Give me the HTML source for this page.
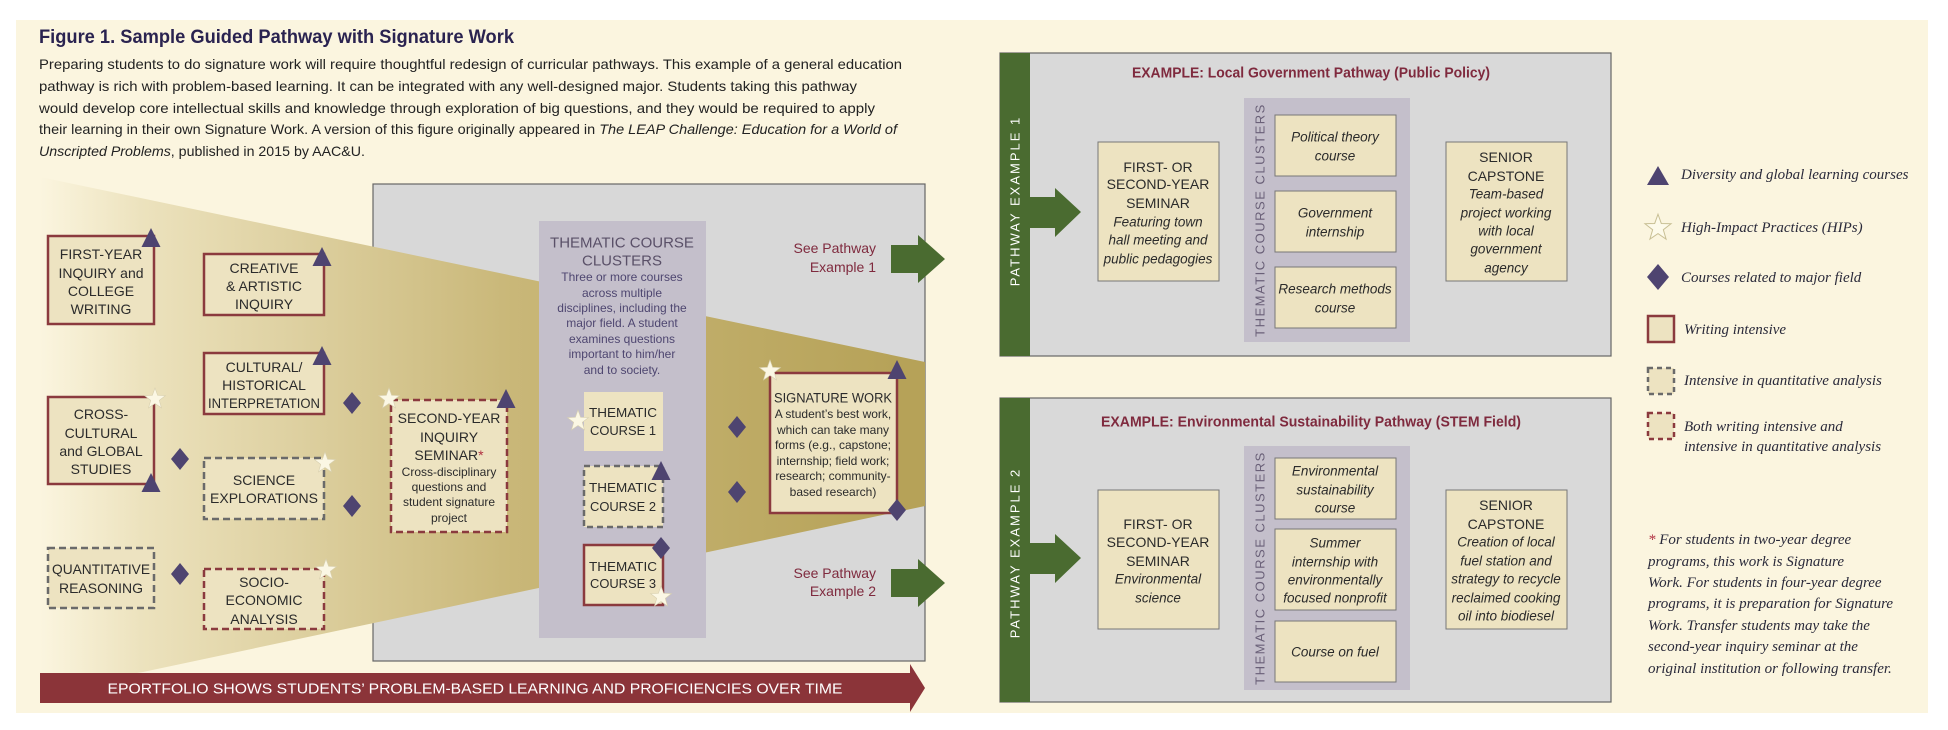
<!DOCTYPE html>
<html><head><meta charset="utf-8"><style>
html,body{margin:0;padding:0;background:#fff;}
svg{display:block;}
text{font-family:"Liberation Sans Narrow","Liberation Sans",sans-serif;fill:#2b2b2b;}
.c{text-anchor:middle;dominant-baseline:central;font-size:14px;}
.t{text-anchor:middle;dominant-baseline:central;font-size:12.5px;}
.s{text-anchor:middle;dominant-baseline:central;font-size:12px;}
.i{text-anchor:middle;dominant-baseline:central;font-size:13.5px;font-style:italic;}
.lg{font-family:"Liberation Serif",serif;font-style:italic;font-size:15px;fill:#2a2a3a;dominant-baseline:central;}
.p{font-size:14px;fill:#222;}
</style></head><body>
<svg width="1948" height="730" viewBox="0 0 1948 730" xmlns="http://www.w3.org/2000/svg">
<defs>
<linearGradient id="gold" x1="40" y1="0" x2="900" y2="0" gradientUnits="userSpaceOnUse">
<stop offset="0" stop-color="#fbf5df"/><stop offset="0.12" stop-color="#ece2bd"/><stop offset="0.55" stop-color="#c9b778"/><stop offset="1" stop-color="#b6a258"/>
</linearGradient>
<polygon id="st" points="0,-11 2.65,-3.64 10.46,-3.4 4.28,1.39 6.47,8.9 0,4.5 -6.47,8.9 -4.28,1.39 -10.46,-3.4 -2.65,-3.64" fill="#fbf7e4" stroke="#d8d0b0" stroke-width="0.6"/>
<polygon id="tr" points="0,-10 9.5,9 -9.5,9" fill="#4e4470"/>
<polygon id="dm" points="0,-11 9,0 0,11 -9,0" fill="#4e4470"/>
</defs>
<rect x="16" y="20" width="1912" height="693" fill="#fbf5df"/>
<text x="39" y="43" font-size="19" font-weight="bold" style="fill:#2a2350" textLength="475" lengthAdjust="spacingAndGlyphs">Figure 1. Sample Guided Pathway with Signature Work</text>
<text class="p" x="39" y="69" textLength="863" lengthAdjust="spacingAndGlyphs">Preparing students to do signature work will require thoughtful redesign of curricular pathways. This example of a general education</text>
<text class="p" x="39" y="91" textLength="818" lengthAdjust="spacingAndGlyphs">pathway is rich with problem-based learning. It can be integrated with any well-designed major. Students taking this pathway</text>
<text class="p" x="39" y="113" textLength="836" lengthAdjust="spacingAndGlyphs">would develop core intellectual skills and knowledge through exploration of big questions, and they would be required to apply</text>
<text class="p" x="39" y="134" textLength="858" lengthAdjust="spacingAndGlyphs">their learning in their own Signature Work. A version of this figure originally appeared in <tspan font-style="italic">The LEAP Challenge: Education for a World of</tspan></text>
<text class="p" x="39" y="156" textLength="326" lengthAdjust="spacingAndGlyphs"><tspan font-style="italic">Unscripted Problems</tspan>, published in 2015 by AAC&amp;U.</text>

<rect x="373" y="184" width="552" height="477" fill="#d8d8d8" stroke="#666" stroke-width="1.2"/>
<polygon points="40,177 925,362 925,506 143,672 40,690" fill="url(#gold)"/>
<rect x="539" y="221" width="167" height="417" fill="#c4bfcb"/>
<text class="c" x="622" y="243" style="fill:#5a5068;font-size:15px">THEMATIC COURSE</text>
<text class="c" x="622" y="261" style="fill:#5a5068;font-size:15px">CLUSTERS</text>
<text class="s" x="622" y="277" style="fill:#4e4670">Three or more courses</text>
<text class="s" x="622" y="293" style="fill:#4e4670">across multiple</text>
<text class="s" x="622" y="308" style="fill:#4e4670">disciplines, including the</text>
<text class="s" x="622" y="323" style="fill:#4e4670">major field. A student</text>
<text class="s" x="622" y="339" style="fill:#4e4670">examines questions</text>
<text class="s" x="622" y="354" style="fill:#4e4670">important to him/her</text>
<text class="s" x="622" y="370" style="fill:#4e4670">and to society.</text>

<g fill="#ede3c1" stroke-width="2.5">
<rect x="48" y="236" width="106" height="88" stroke="#8b3a3e"/>
<rect x="204" y="254" width="120" height="61" stroke="#8b3a3e"/>
<rect x="204" y="353" width="120" height="61" stroke="#8b3a3e"/>
<rect x="48" y="397" width="106" height="87" stroke="#8b3a3e"/>
<rect x="204" y="458" width="120" height="61" stroke="#6a6a6a" stroke-dasharray="7,4"/>
<rect x="391" y="400" width="116" height="132" stroke="#8b3a3e" stroke-dasharray="7,4"/>
<rect x="48" y="548" width="106" height="60" stroke="#6a6a6a" stroke-dasharray="7,4"/>
<rect x="204" y="569" width="120" height="60" stroke="#8b3a3e" stroke-dasharray="7,4"/>
<rect x="584" y="392" width="79" height="59" stroke="none"/>
<rect x="584" y="466" width="79" height="61" stroke="#6a6a6a" stroke-dasharray="6,4"/>
<rect x="584" y="545" width="79" height="60" stroke="#8b3a3e"/>
<rect x="770" y="373" width="127" height="140" stroke="#8b3a3e"/>
</g>
<text class="c" x="101" y="254">FIRST-YEAR</text>
<text class="c" x="101" y="273">INQUIRY and</text>
<text class="c" x="101" y="291">COLLEGE</text>
<text class="c" x="101" y="309">WRITING</text>
<text class="c" x="264" y="268">CREATIVE</text>
<text class="c" x="264" y="286">&amp; ARTISTIC</text>
<text class="c" x="264" y="304">INQUIRY</text>
<text class="c" x="264" y="367">CULTURAL/</text>
<text class="c" x="264" y="385">HISTORICAL</text>
<text class="c" x="264" y="403" textLength="112" lengthAdjust="spacingAndGlyphs">INTERPRETATION</text>
<text class="c" x="101" y="414">CROSS-</text>
<text class="c" x="101" y="433">CULTURAL</text>
<text class="c" x="101" y="451">and GLOBAL</text>
<text class="c" x="101" y="469">STUDIES</text>
<text class="c" x="264" y="480">SCIENCE</text>
<text class="c" x="264" y="498">EXPLORATIONS</text>
<text class="c" x="449" y="418">SECOND-YEAR</text>
<text class="c" x="449" y="437">INQUIRY</text>
<text class="c" x="449" y="455">SEMINAR<tspan style="fill:#b03040">*</tspan></text>
<text class="s" x="449" y="472">Cross-disciplinary</text>
<text class="s" x="449" y="487">questions and</text>
<text class="s" x="449" y="502">student signature</text>
<text class="s" x="449" y="518">project</text>
<text class="c" x="101" y="569" textLength="98" lengthAdjust="spacingAndGlyphs">QUANTITATIVE</text>
<text class="c" x="101" y="588">REASONING</text>
<text class="c" x="264" y="582">SOCIO-</text>
<text class="c" x="264" y="600">ECONOMIC</text>
<text class="c" x="264" y="619">ANALYSIS</text>
<text class="t" x="623" y="413" textLength="68" lengthAdjust="spacingAndGlyphs">THEMATIC</text>
<text class="t" x="623" y="431" textLength="66" lengthAdjust="spacingAndGlyphs">COURSE 1</text>
<text class="t" x="623" y="488" textLength="68" lengthAdjust="spacingAndGlyphs">THEMATIC</text>
<text class="t" x="623" y="507" textLength="66" lengthAdjust="spacingAndGlyphs">COURSE 2</text>
<text class="t" x="623" y="567" textLength="68" lengthAdjust="spacingAndGlyphs">THEMATIC</text>
<text class="t" x="623" y="584" textLength="66" lengthAdjust="spacingAndGlyphs">COURSE 3</text>
<text class="c" x="833" y="398" style="font-size:13.5px" textLength="118" lengthAdjust="spacingAndGlyphs">SIGNATURE WORK</text>
<text class="s" x="833" y="414">A student’s best work,</text>
<text class="s" x="833" y="430">which can take many</text>
<text class="s" x="833" y="445">forms (e.g., capstone;</text>
<text class="s" x="833" y="461">internship; field work;</text>
<text class="s" x="833" y="476">research; community-</text>
<text class="s" x="833" y="492">based research)</text>

<use href="#tr" x="151" y="238"/>
<use href="#tr" x="322" y="257"/>
<use href="#tr" x="322" y="356"/>
<use href="#st" x="155" y="399"/>
<use href="#tr" x="151" y="483"/>
<use href="#dm" x="180" y="459"/>
<use href="#st" x="325" y="463"/>
<use href="#dm" x="352" y="403"/>
<use href="#dm" x="352" y="506"/>
<use href="#st" x="389" y="399"/>
<use href="#tr" x="506" y="399"/>
<use href="#dm" x="180" y="574"/>
<use href="#st" x="326" y="570"/>
<use href="#st" x="578" y="421"/>
<use href="#tr" x="661" y="471"/>
<use href="#dm" x="661" y="548"/>
<use href="#st" x="661" y="597"/>
<use href="#dm" x="737" y="427"/>
<use href="#dm" x="737" y="492"/>
<use href="#st" x="770" y="371"/>
<use href="#tr" x="897" y="370"/>
<use href="#dm" x="897" y="510"/>

<text x="876" y="248" font-size="14" text-anchor="end" dominant-baseline="central" style="fill:#7f2a3e">See Pathway</text>
<text x="876" y="267" font-size="14" text-anchor="end" dominant-baseline="central" style="fill:#7f2a3e">Example 1</text>
<polygon points="891,245 918,245 918,235 945,259 918,283 918,273 891,273" fill="#4a6b30"/>
<text x="876" y="573" font-size="14" text-anchor="end" dominant-baseline="central" style="fill:#7f2a3e">See Pathway</text>
<text x="876" y="591" font-size="14" text-anchor="end" dominant-baseline="central" style="fill:#7f2a3e">Example 2</text>
<polygon points="891,569 918,569 918,559 945,583 918,607 918,597 891,597" fill="#4a6b30"/>

<polygon points="40,673 910,673 910,664 925,688 910,712 910,703 40,703" fill="#8b3439"/>
<text x="475" y="689" font-size="15" text-anchor="middle" dominant-baseline="central" style="fill:#fff" textLength="735" lengthAdjust="spacingAndGlyphs">EPORTFOLIO SHOWS STUDENTS’ PROBLEM-BASED LEARNING AND PROFICIENCIES OVER TIME</text>

<rect x="1000" y="53" width="611" height="303" fill="#d9d9d9" stroke="#666" stroke-width="1.2"/>
<rect x="1000" y="53" width="30" height="303" fill="#4a6b30"/>
<text x="1015" y="201" font-size="13" text-anchor="middle" dominant-baseline="central" transform="rotate(-90 1015 201)" style="fill:#fff;font-family:'Liberation Sans',sans-serif;letter-spacing:2px">PATHWAY EXAMPLE 1</text>
<polygon points="1030,197 1055,197 1055,188 1081,212 1055,237 1055,228 1030,228" fill="#4a6b30"/>
<text x="1311" y="73" font-size="15" font-weight="bold" text-anchor="middle" dominant-baseline="central" style="fill:#7f2a3e" textLength="358" lengthAdjust="spacingAndGlyphs">EXAMPLE: Local Government Pathway (Public Policy)</text>
<rect x="1244" y="98" width="166" height="244" fill="#c4bfcb"/>
<text x="1260" y="220" font-size="13" text-anchor="middle" dominant-baseline="central" transform="rotate(-90 1260 220)" style="fill:#6a6078;font-family:'Liberation Sans',sans-serif;letter-spacing:1.5px">THEMATIC COURSE CLUSTERS</text>
<g fill="#ede3c1" stroke="#777" stroke-width="1">
<rect x="1098" y="142" width="121" height="139"/>
<rect x="1275" y="115" width="121" height="61"/>
<rect x="1275" y="191" width="121" height="61"/>
<rect x="1275" y="267" width="121" height="61"/>
<rect x="1446" y="142" width="121" height="139"/>
</g>
<text class="c" x="1158" y="167">FIRST- OR</text>
<text class="c" x="1158" y="184">SECOND-YEAR</text>
<text class="c" x="1158" y="203">SEMINAR</text>
<text class="i" x="1158" y="222">Featuring town</text>
<text class="i" x="1158" y="240">hall meeting and</text>
<text class="i" x="1158" y="259">public pedagogies</text>
<text class="i" x="1335" y="137">Political theory</text>
<text class="i" x="1335" y="156">course</text>
<text class="i" x="1335" y="213">Government</text>
<text class="i" x="1335" y="232">internship</text>
<text class="i" x="1335" y="289">Research methods</text>
<text class="i" x="1335" y="308">course</text>
<text class="c" x="1506" y="157">SENIOR</text>
<text class="c" x="1506" y="176">CAPSTONE</text>
<text class="i" x="1506" y="194">Team-based</text>
<text class="i" x="1506" y="213">project working</text>
<text class="i" x="1506" y="231">with local</text>
<text class="i" x="1506" y="249">government</text>
<text class="i" x="1506" y="268">agency</text>

<rect x="1000" y="398" width="611" height="304" fill="#d9d9d9" stroke="#666" stroke-width="1.2"/>
<rect x="1000" y="398" width="30" height="304" fill="#4a6b30"/>
<text x="1015" y="553" font-size="13" text-anchor="middle" dominant-baseline="central" transform="rotate(-90 1015 553)" style="fill:#fff;font-family:'Liberation Sans',sans-serif;letter-spacing:2px">PATHWAY EXAMPLE 2</text>
<polygon points="1030,543 1055,543 1055,534 1081,558 1055,583 1055,574 1030,574" fill="#4a6b30"/>
<text x="1311" y="422" font-size="15" font-weight="bold" text-anchor="middle" dominant-baseline="central" style="fill:#7f2a3e" textLength="420" lengthAdjust="spacingAndGlyphs">EXAMPLE: Environmental Sustainability Pathway (STEM Field)</text>
<rect x="1244" y="446" width="166" height="244" fill="#c4bfcb"/>
<text x="1260" y="568" font-size="13" text-anchor="middle" dominant-baseline="central" transform="rotate(-90 1260 568)" style="fill:#6a6078;font-family:'Liberation Sans',sans-serif;letter-spacing:1.5px">THEMATIC COURSE CLUSTERS</text>
<g fill="#ede3c1" stroke="#777" stroke-width="1">
<rect x="1098" y="490" width="121" height="139"/>
<rect x="1275" y="458" width="121" height="61"/>
<rect x="1275" y="529" width="121" height="81"/>
<rect x="1275" y="621" width="121" height="61"/>
<rect x="1446" y="490" width="121" height="139"/>
</g>
<text class="c" x="1158" y="524">FIRST- OR</text>
<text class="c" x="1158" y="542">SECOND-YEAR</text>
<text class="c" x="1158" y="561">SEMINAR</text>
<text class="i" x="1158" y="579">Environmental</text>
<text class="i" x="1158" y="598">science</text>
<text class="i" x="1335" y="471">Environmental</text>
<text class="i" x="1335" y="490">sustainability</text>
<text class="i" x="1335" y="508">course</text>
<text class="i" x="1335" y="543">Summer</text>
<text class="i" x="1335" y="562">internship with</text>
<text class="i" x="1335" y="580">environmentally</text>
<text class="i" x="1335" y="598">focused nonprofit</text>
<text class="i" x="1335" y="652">Course on fuel</text>
<text class="c" x="1506" y="505">SENIOR</text>
<text class="c" x="1506" y="524">CAPSTONE</text>
<text class="i" x="1506" y="542">Creation of local</text>
<text class="i" x="1506" y="561">fuel station and</text>
<text class="i" x="1506" y="579">strategy to recycle</text>
<text class="i" x="1506" y="598">reclaimed cooking</text>
<text class="i" x="1506" y="616">oil into biodiesel</text>

<polygon points="1658,166 1669,185 1647,185" fill="#4e4470"/>
<text class="lg" x="1681" y="175">Diversity and global learning courses</text>
<g transform="translate(1658,228) scale(1.25)"><polygon points="0,-11 2.65,-3.64 10.46,-3.4 4.28,1.39 6.47,8.9 0,4.5 -6.47,8.9 -4.28,1.39 -10.46,-3.4 -2.65,-3.64" fill="#fdfaea" stroke="#c8bf94" stroke-width="0.8"/></g>
<text class="lg" x="1681" y="228">High-Impact Practices (HIPs)</text>
<polygon points="1658,264 1669,277 1658,290 1647,277" fill="#4e4470"/>
<text class="lg" x="1681" y="278">Courses related to major field</text>
<rect x="1648" y="316" width="26" height="26" fill="#ede3c1" stroke="#8b3a3e" stroke-width="2.5"/>
<text class="lg" x="1684" y="330">Writing intensive</text>
<rect x="1648" y="368" width="26" height="26" fill="#ede3c1" stroke="#6a6a6a" stroke-width="2.5" stroke-dasharray="5,4"/>
<text class="lg" x="1684" y="381">Intensive in quantitative analysis</text>
<rect x="1648" y="413" width="26" height="26" fill="#ede3c1" stroke="#8b3a3e" stroke-width="2.5" stroke-dasharray="5,4"/>
<text class="lg" x="1684" y="427">Both writing intensive and</text>
<text class="lg" x="1684" y="447">intensive in quantitative analysis</text>
<text class="lg" x="1648" y="540"><tspan style="fill:#b03040">*</tspan> For students in two-year degree</text>
<text class="lg" x="1648" y="562">programs, this work is Signature</text>
<text class="lg" x="1648" y="583">Work. For students in four-year degree</text>
<text class="lg" x="1648" y="604">programs, it is preparation for Signature</text>
<text class="lg" x="1648" y="626">Work. Transfer students may take the</text>
<text class="lg" x="1648" y="647">second-year inquiry seminar at the</text>
<text class="lg" x="1648" y="669">original institution or following transfer.</text>
</svg>
</body></html>
